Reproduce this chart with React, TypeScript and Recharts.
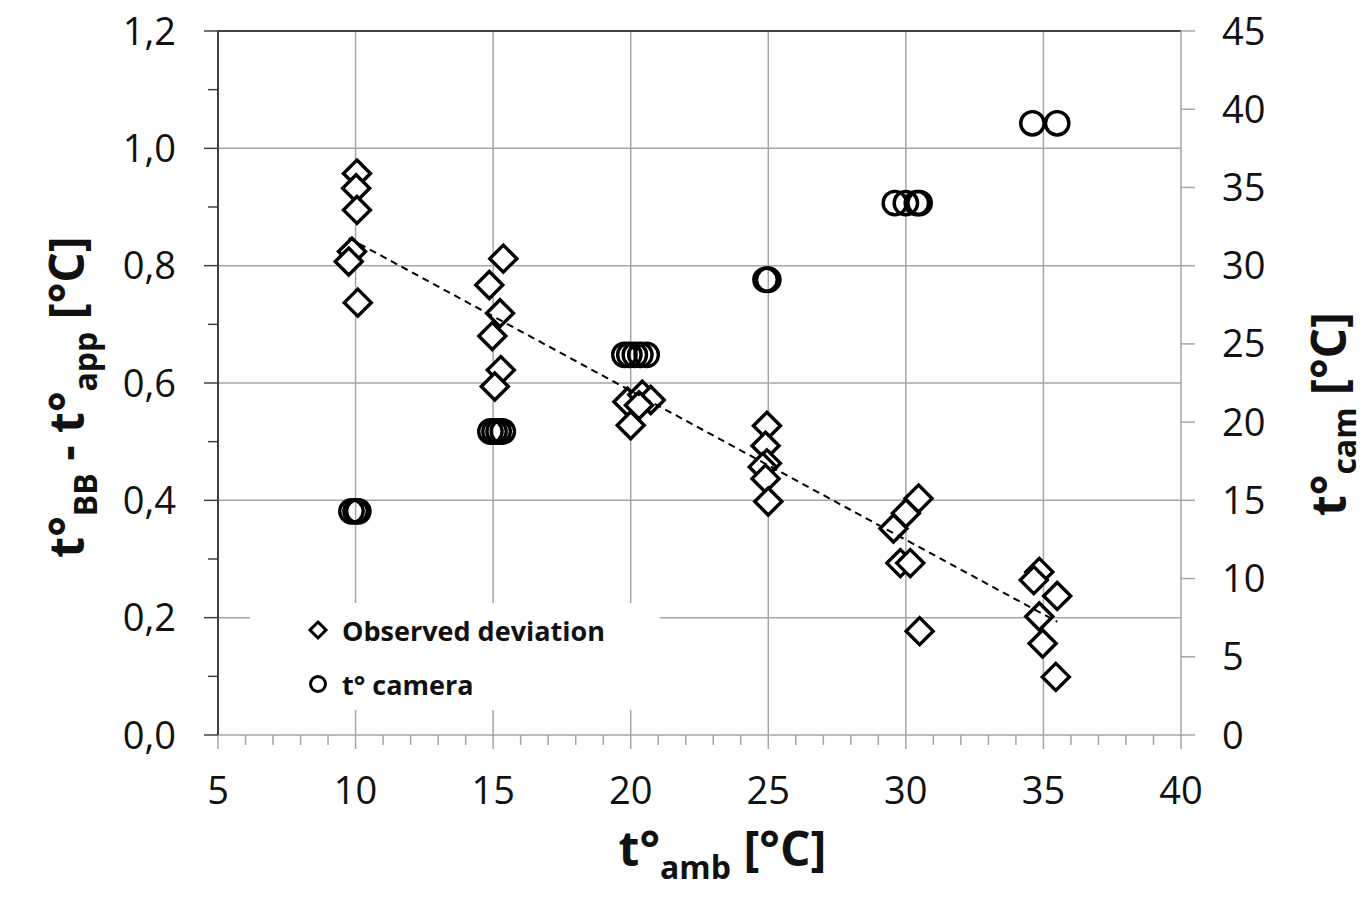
import React from "react";
import {
  ComposedChart, Scatter, XAxis, YAxis, CartesianGrid, ReferenceLine, Legend,
} from "recharts";

const FONT = "'Open Sans', sans-serif";

// observed deviation t°BB - t°app vs ambient temperature
const devAmb = [
  10.05, 10.02, 10.05, 9.87, 9.75, 10.08,
  15.37, 14.86, 15.25, 14.97, 15.28, 15.06,
  19.88, 20.42, 20.73, 20.0, 20.3,
  24.95, 24.9, 24.95, 24.8, 24.9, 25.0,
  30.46, 30.0, 29.55, 29.8, 30.16, 30.5,
  34.85, 34.65, 35.5, 34.85, 34.97, 35.45,
];
const devDelta = [
  0.957, 0.932, 0.895, 0.824, 0.807, 0.737,
  0.812, 0.767, 0.719, 0.68, 0.622, 0.594,
  0.568, 0.58, 0.571, 0.528, 0.562,
  0.527, 0.493, 0.463, 0.457, 0.437, 0.398,
  0.403, 0.378, 0.352, 0.293, 0.293, 0.177,
  0.278, 0.264, 0.237, 0.202, 0.156, 0.099,
];

// camera temperature (right axis)
const camAmb = [
  9.85, 10.0, 10.1,
  14.9, 15.05, 15.2, 15.35,
  19.77, 19.95, 20.15, 20.35, 20.58,
  24.9, 25.0,
  29.6, 30.0, 30.4, 30.5,
  34.6, 35.5,
];
const camTemp = [
  14.3, 14.3, 14.3,
  19.4, 19.4, 19.4, 19.4,
  24.3, 24.3, 24.3, 24.3, 24.3,
  29.1, 29.1,
  34.0, 34.0, 34.0, 34.0,
  39.1, 39.1,
];

// linear trend of the deviation
const trendAmb = [9.75, 35.5];
const trendDelta = [0.847, 0.193];

const xTicks = [5, 6, 7, 8, 9, 10, 11, 12, 13, 14, 15, 16, 17, 18, 19, 20, 21, 22, 23, 24, 25, 26, 27, 28, 29, 30, 31, 32, 33, 34, 35, 36, 37, 38, 39, 40];
const leftTicks = [0, 0.1, 0.2, 0.3, 0.4, 0.5, 0.6, 0.7, 0.8, 0.9, 1.0, 1.1, 1.2];
const rightTicks = [0, 5, 10, 15, 20, 25, 30, 35, 40, 45];
const gridX = [10, 15, 20, 25, 30, 35];
const gridY = [0.2, 0.4, 0.6, 0.8, 1.0];

const legendItems = [
  { name: "Observed deviation", kind: "diamond" },
  { name: "t° camera", kind: "circle" },
];

const devData = devAmb.map((x, i) => ({ x, y: devDelta[i] }));
const camData = camAmb.map((x, i) => ({ x, y: camTemp[i] }));
const trendData = trendAmb.map((x, i) => ({ x, y: trendDelta[i] }));

const GRID = "#a6a6a6";
const DARK = "#404040";

function Diamond({ cx, cy }: any) {
  const r = 13.5;
  return (
    <path
      d={`M${cx},${cy - r}L${cx + r},${cy}L${cx},${cy + r}L${cx - r},${cy}Z`}
      fill="#fff" stroke="#000" strokeWidth={3.4} strokeLinejoin="miter"
    />
  );
}

function Ring({ cx, cy }: any) {
  return <circle cx={cx} cy={cy} r={11.7} fill="none" stroke="#000" strokeWidth={3.4} />;
}

function XTick({ x, y, payload }: any) {
  const major = payload.value % 5 === 0;
  return (
    <g>
      <line x1={x} x2={x} y1={y} y2={y + (major ? 14 : 10)} stroke={GRID} strokeWidth={1.5} />
      {major && (
        <text x={x} y={y + 69} textAnchor="middle" fontFamily={FONT} fontSize={38} fill="#111">
          {payload.value}
        </text>
      )}
    </g>
  );
}

function LeftTick({ x, y, payload }: any) {
  const major = Math.round(payload.value * 10) % 2 === 0;
  return (
    <g>
      <line x1={x - (major ? 14 : 10)} x2={x} y1={y} y2={y} stroke={DARK} strokeWidth={1.5} />
      {major && (
        <text x={x - 42} y={y + 13.5} textAnchor="end" fontFamily={FONT} fontSize={38} fill="#111">
          {payload.value.toFixed(1).replace(".", ",")}
        </text>
      )}
    </g>
  );
}

function RightTick({ x, y, payload }: any) {
  return (
    <g>
      <line x1={x} x2={x + 14} y1={y} y2={y} stroke={GRID} strokeWidth={1.5} />
      <text x={x + 41} y={y + 13.5} textAnchor="start" fontFamily={FONT} fontSize={38} fill="#111">
        {payload.value}
      </text>
    </g>
  );
}

function XTitle({ viewBox }: any) {
  const cx = viewBox.x + viewBox.width / 2 + 23;
  return (
    <text x={cx} y={866} textAnchor="middle" fontFamily={FONT} fontWeight={700} fontSize={48} fill="#111">
      <tspan>t°</tspan>
      <tspan fontSize={32} dy={13}>amb</tspan>
      <tspan dy={-13}> [°C]</tspan>
    </text>
  );
}

function LeftTitle() {
  const x = 84;
  const y = 397;
  return (
    <text x={x} y={y} transform={`rotate(-90 ${x} ${y})`} textAnchor="middle" fontFamily={FONT} fontWeight={700} fontSize={48} fill="#111">
      <tspan>t°</tspan>
      <tspan fontSize={32} dy={13}>BB</tspan>
      <tspan dy={-13}> - t°</tspan>
      <tspan fontSize={32} dy={13}>app</tspan>
      <tspan dy={-13}> [°C]</tspan>
    </text>
  );
}

function RightTitle() {
  const x = 1346;
  const y = 414;
  return (
    <text x={x} y={y} transform={`rotate(-90 ${x} ${y})`} textAnchor="middle" fontFamily={FONT} fontWeight={700} fontSize={48} fill="#111">
      <tspan>t°</tspan>
      <tspan fontSize={32} dy={10}>cam</tspan>
      <tspan dy={-10}> [°C]</tspan>
    </text>
  );
}

function LegendBox() {
  return (
    <div style={{ fontFamily: FONT, fontWeight: 700, fontSize: 27, color: "#111" }}>
      {legendItems.map((it, i) => (
        <div key={it.name} style={{ position: "absolute", left: 57, top: 12 + i * 54, height: 30, display: "flex", alignItems: "center" }}>
          <svg width={22} height={22} style={{ marginRight: 13 }}>
            {it.kind === "diamond" ? (
              <path d="M11,3L19,11L11,19L3,11Z" fill="#fff" stroke="#000" strokeWidth={3} />
            ) : (
              <circle cx={11} cy={11} r={7.5} fill="none" stroke="#000" strokeWidth={3} />
            )}
          </svg>
          <span style={{ whiteSpace: "nowrap" }}>{it.name}</span>
        </div>
      ))}
    </div>
  );
}

export default function App() {
  return (
    <div style={{ position: "absolute", left: 0, top: 0, background: "#fff" }}>
      <ComposedChart width={1370} height={897} margin={{ top: 31, right: 0, left: 0, bottom: 0 }}>
        <CartesianGrid
          yAxisId="left"
          stroke={GRID}
          strokeWidth={1.5}
          horizontalValues={gridY}
          verticalValues={gridX}
        />
        <XAxis
          type="number" dataKey="x" domain={[5, 40]} ticks={xTicks} interval={0}
          height={162} tickSize={0} tickMargin={0} tickLine={false}
          axisLine={{ stroke: GRID, strokeWidth: 1.5 }}
          tick={<XTick />} label={<XTitle />} allowDataOverflow
        />
        <YAxis
          yAxisId="left" type="number" dataKey="y" domain={[0, 1.2]} ticks={leftTicks} interval={0}
          width={218} tickSize={0} tickMargin={0} tickLine={false}
          axisLine={{ stroke: DARK, strokeWidth: 2 }}
          tick={<LeftTick />} label={<LeftTitle />} allowDataOverflow
        />
        <YAxis
          yAxisId="right" orientation="right" type="number" dataKey="y" domain={[0, 45]} ticks={rightTicks} interval={0}
          width={189} tickSize={0} tickMargin={0} tickLine={false}
          axisLine={{ stroke: GRID, strokeWidth: 1.5 }}
          tick={<RightTick />} label={<RightTitle />} allowDataOverflow
        />
        <ReferenceLine yAxisId="left" y={1.2} stroke={DARK} strokeWidth={2} />
        <Legend
          layout="vertical" align="center" verticalAlign="middle"
          content={<LegendBox />}
          wrapperStyle={{ left: 250, top: 603, width: 410, height: 107, background: "#fff" }}
        />
        <Scatter yAxisId="left" data={devData} shape={<Diamond />} isAnimationActive={false} />
        <Scatter yAxisId="right" data={camData} shape={<Ring />} isAnimationActive={false} />
        <Scatter
          yAxisId="left" data={trendData} shape={() => <g />}
          line={{ stroke: "#000", strokeWidth: 2, strokeDasharray: "7 5" }}
          isAnimationActive={false}
        />
      </ComposedChart>
    </div>
  );
}
